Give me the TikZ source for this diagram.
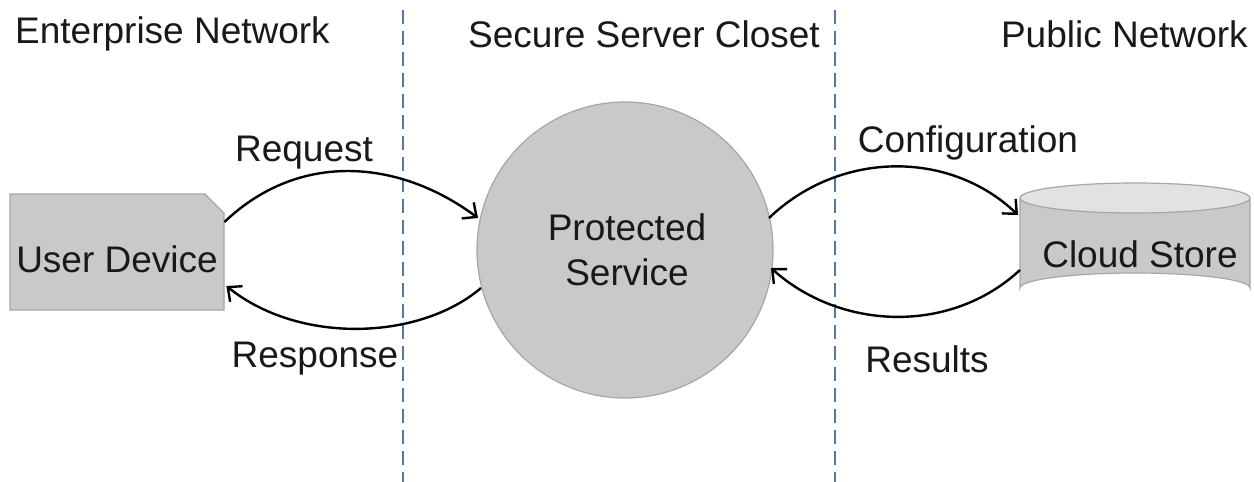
\documentclass[tikz,border=0pt]{standalone}
\usepackage{fontspec}
\setmainfont{Liberation Sans}
\usetikzlibrary{arrows.meta,calc}
\definecolor{boxfill}{HTML}{C9C9C9}
\definecolor{boxline}{HTML}{A6A6A6}
\definecolor{topfill}{HTML}{E2E2E2}
\definecolor{divline}{HTML}{56789A}
\tikzset{
  lbl/.style={font=\fontsize{37}{44}\selectfont, inner sep=0pt, text=black!90},
  flow/.style={line width=2.4pt, -{Straight Barb[length=11pt,width=20pt,line width=2.4pt]}},
  divider/.style={divline, line width=2.6pt, dash pattern=on 14pt off 7pt},
  shapeline/.style={draw=boxline, line width=1.2pt, fill=boxfill}
}
\begin{document}
\begin{tikzpicture}[x=1pt,y=-1pt]
\useasboundingbox (0,0) rectangle (1254,482);
\fill[white] (0,0) rectangle (1254,482);
% dividers
\draw[divider] (403,10) -- (403,482);
\draw[divider] (835,10) -- (835,482);
% titles
\node[lbl, anchor=base west] (t1) at (15,43) {Enterprise Network};
\node[lbl, anchor=base west] (t2) at (468,47) {Secure Server Closet};
\node[lbl, anchor=base east] (t3) at (1248,47) {Public Network};
% user device
\draw[shapeline] (10,194) -- (205,194) -- (224,213) -- (224,310) -- (10,310) -- cycle;
\node[lbl, minimum width=214pt, minimum height=116pt, anchor=north west] (dev) at (10,194) {};
\node[lbl, anchor=base] (devt) at (117,272) {User Device};
% protected service
\node[circle, shapeline, minimum size=296pt, inner sep=0pt] (ps) at (625,250) {};
\node[lbl, anchor=base] (pst1) at (627,240) {Protected};
\node[lbl, anchor=base] (pst2) at (627,285) {Service};
% cloud store
\draw[shapeline] (1020,198) -- (1020,288) arc[start angle=180, end angle=360, x radius=115, y radius=15] -- (1250,198);
\draw[draw=boxline, line width=1.2pt, fill=topfill] (1135,198) ellipse[x radius=115, y radius=15];
\node[lbl, minimum width=230pt, minimum height=120pt, anchor=north west] (cs) at (1020,183) {};
\node[lbl, anchor=base] (cst) at (1140,267) {Cloud Store};
% connectors
\coordinate (a1) at ($(dev.north east)+(0,28)$);
\coordinate (a2) at ($(ps.center)+(-147,-32)$);
\draw[flow] (a1) .. controls (300,150) and (400,160) .. (a2);
\coordinate (b1) at ($(ps.center)+(-144,38)$);
\coordinate (b2) at ($(dev.north east)+(2,92)$);
\draw[flow] (b1) .. controls (420,340) and (300,345) .. (b2);
\coordinate (c1) at ($(ps.center)+(144,-32)$);
\coordinate (c2) at ($(cs.north west)+(-2,32)$);
\draw[flow] (c1) .. controls (840,150) and (950,150) .. (c2);
\coordinate (d1) at ($(cs.north west)+(0,87)$);
\coordinate (d2) at ($(ps.center)+(146,18)$);
\draw[flow] (d1) .. controls (950,335) and (840,330) .. (d2);
% connector labels
\node[lbl, anchor=base] (l1) at (304,161) {Request};
\node[lbl, anchor=base] (l2) at (315,367) {Response};
\node[lbl, anchor=base] (l3) at (968,152) {Configuration};
\node[lbl, anchor=base] (l4) at (927,372) {Results};
\end{tikzpicture}
\end{document}
